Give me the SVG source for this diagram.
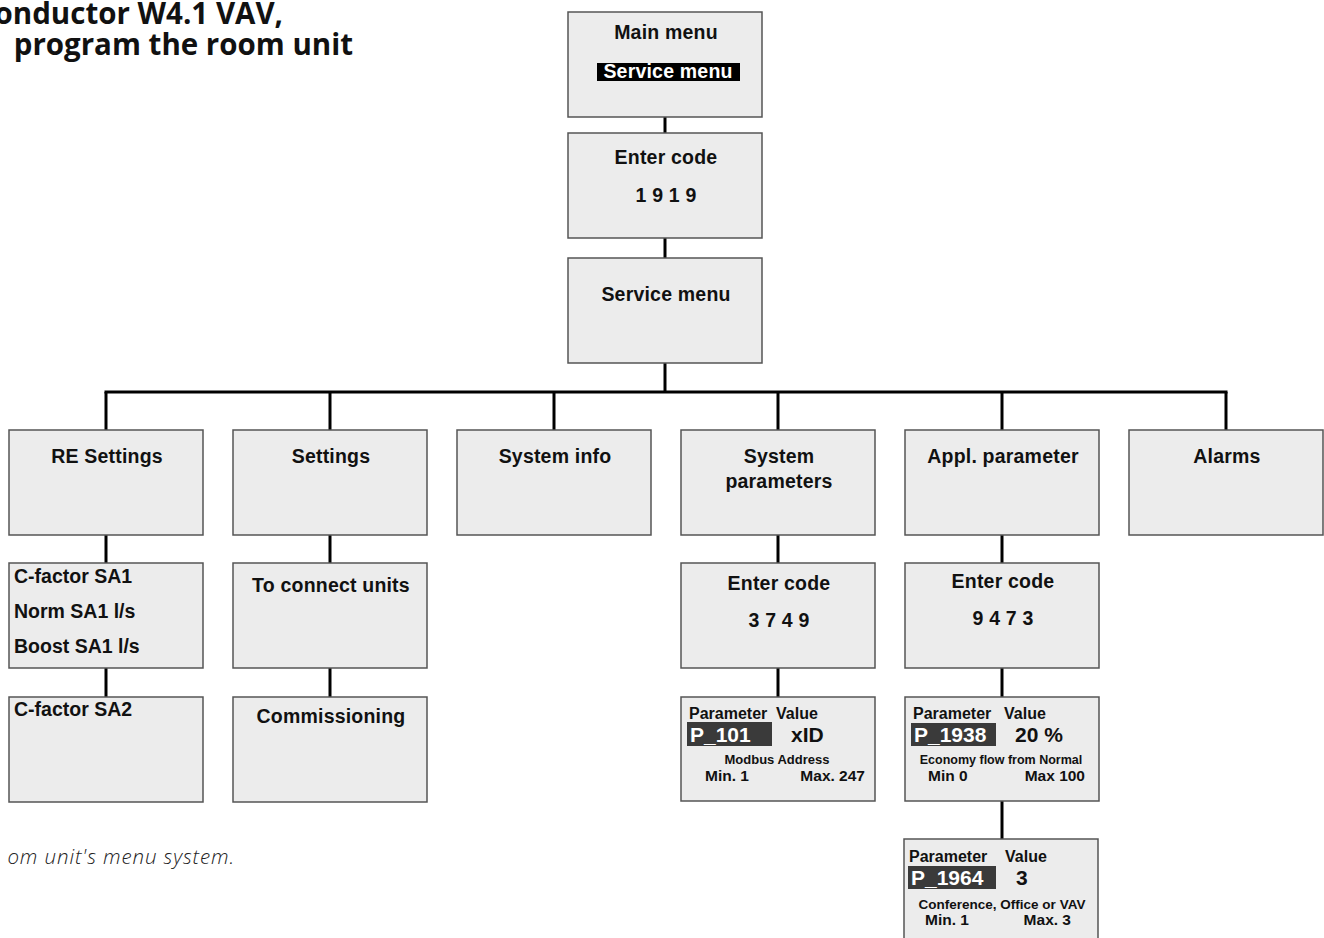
<svg xmlns="http://www.w3.org/2000/svg" width="1324" height="938" viewBox="0 0 1324 938">
<style>
.box{fill:#ececec;stroke:#555;stroke-width:1.5}
.t{font-family:"Liberation Sans",Arial,sans-serif;font-weight:bold;font-size:19.5px;letter-spacing:0.2px;fill:#111}
.c{text-anchor:middle}
.l{font-family:"Liberation Sans",Arial,sans-serif;font-weight:bold;font-size:19.5px;fill:#111}
.p{font-family:"Liberation Sans",Arial,sans-serif;font-weight:bold;fill:#111}
.inv{fill:#3a3a3a}
.w{fill:#fff}
.conn line{stroke:#000;stroke-width:3}
.title{font-family:"Open Sans","Noto Sans",sans-serif;font-weight:bold;font-size:29.5px;fill:#111;text-anchor:end}
.cap{font-family:"Open Sans","Noto Sans",sans-serif;font-style:italic;font-weight:300;font-size:20.5px;letter-spacing:0.9px;fill:#222;text-anchor:end}
</style>
<rect width="1324" height="938" fill="#fff"/>
<text class="title" x="283" y="24">onductor W4.1 VAV,</text>
<text class="title" x="353" y="55">program the room unit</text>
<text class="cap" x="235" y="864">om unit's menu system.</text>

<g class="conn">
<line x1="665" y1="117" x2="665" y2="133"/>
<line x1="665" y1="238" x2="665" y2="258"/>
<line x1="665" y1="363" x2="665" y2="392"/>
<line x1="104.5" y1="392" x2="1227.5" y2="392"/>
<line x1="106" y1="392" x2="106" y2="430"/>
<line x1="330" y1="392" x2="330" y2="430"/>
<line x1="554" y1="392" x2="554" y2="430"/>
<line x1="778" y1="392" x2="778" y2="430"/>
<line x1="1002" y1="392" x2="1002" y2="430"/>
<line x1="1226" y1="392" x2="1226" y2="430"/>
<line x1="106" y1="535" x2="106" y2="563"/>
<line x1="330" y1="535" x2="330" y2="563"/>
<line x1="778" y1="535" x2="778" y2="563"/>
<line x1="1002" y1="535" x2="1002" y2="563"/>
<line x1="106" y1="668" x2="106" y2="697"/>
<line x1="330" y1="668" x2="330" y2="697"/>
<line x1="778" y1="668" x2="778" y2="697"/>
<line x1="1002" y1="668" x2="1002" y2="697"/>
<line x1="1002" y1="801" x2="1002" y2="839"/>
</g>

<g id="main-menu">
<rect class="box" x="568" y="12" width="194" height="105"/>
<text class="t c" x="666" y="39">Main menu</text>
<rect x="597" y="63" width="143" height="18" fill="#000"/>
<text class="t c w" x="668" y="78">Service menu</text>
</g>
<g id="enter-code-1">
<rect class="box" x="568" y="133" width="194" height="105"/>
<text class="t c" x="666" y="164">Enter code</text>
<text class="t c" x="666" y="202">1 9 1 9</text>
</g>
<g id="service-menu">
<rect class="box" x="568" y="258" width="194" height="105"/>
<text class="t c" x="666" y="301">Service menu</text>
</g>

<g id="re-settings">
<rect class="box" x="9" y="430" width="194" height="105"/>
<text class="t c" x="107" y="463">RE Settings</text>
</g>
<g id="settings">
<rect class="box" x="233" y="430" width="194" height="105"/>
<text class="t c" x="331" y="463">Settings</text>
</g>
<g id="system-info">
<rect class="box" x="457" y="430" width="194" height="105"/>
<text class="t c" x="555" y="463">System info</text>
</g>
<g id="system-parameters">
<rect class="box" x="681" y="430" width="194" height="105"/>
<text class="t c" x="779" y="463">System</text>
<text class="t c" x="779" y="488">parameters</text>
</g>
<g id="appl-parameter">
<rect class="box" x="905" y="430" width="194" height="105"/>
<text class="t c" x="1003" y="463">Appl. parameter</text>
</g>
<g id="alarms">
<rect class="box" x="1129" y="430" width="194" height="105"/>
<text class="t c" x="1227" y="463">Alarms</text>
</g>

<g id="sa1">
<rect class="box" x="9" y="563" width="194" height="105"/>
<text class="l" x="14" y="583">C-factor SA1</text>
<text class="l" x="14" y="618">Norm SA1 l/s</text>
<text class="l" x="14" y="653">Boost SA1 l/s</text>
</g>
<g id="to-connect-units">
<rect class="box" x="233" y="563" width="194" height="105"/>
<text class="t c" x="331" y="592">To connect units</text>
</g>
<g id="enter-code-2">
<rect class="box" x="681" y="563" width="194" height="105"/>
<text class="t c" x="779" y="590">Enter code</text>
<text class="t c" x="779" y="627">3 7 4 9</text>
</g>
<g id="enter-code-3">
<rect class="box" x="905" y="563" width="194" height="105"/>
<text class="t c" x="1003" y="588">Enter code</text>
<text class="t c" x="1003" y="625">9 4 7 3</text>
</g>

<g id="sa2">
<rect class="box" x="9" y="697" width="194" height="105"/>
<text class="l" x="14" y="716">C-factor SA2</text>
</g>
<g id="commissioning">
<rect class="box" x="233" y="697" width="194" height="105"/>
<text class="t c" x="331" y="723">Commissioning</text>
</g>

<g id="p101">
<rect class="box" x="681" y="697" width="194" height="104"/>
<text class="p" x="689" y="719" font-size="16">Parameter</text>
<text class="p" x="776" y="719" font-size="16">Value</text>
<rect class="inv" x="687" y="722" width="85" height="24"/>
<text class="p w" x="690" y="742" font-size="21">P_101</text>
<text class="p" x="791" y="742" font-size="21">xID</text>
<text class="p c" x="777" y="764" font-size="13">Modbus Address</text>
<text class="p" x="705" y="781" font-size="15.5">Min. 1</text>
<text class="p" x="865" y="781" font-size="15.5" text-anchor="end">Max. 247</text>
</g>
<g id="p1938">
<rect class="box" x="905" y="697" width="194" height="104"/>
<text class="p" x="913" y="719" font-size="16">Parameter</text>
<text class="p" x="1004" y="719" font-size="16">Value</text>
<rect class="inv" x="911" y="723" width="85" height="23"/>
<text class="p w" x="914" y="742" font-size="21">P_1938</text>
<text class="p" x="1015" y="742" font-size="21">20 %</text>
<text class="p c" x="1001" y="764" font-size="12.5">Economy flow from Normal</text>
<text class="p" x="928" y="781" font-size="15.5">Min 0</text>
<text class="p" x="1085" y="781" font-size="15.5" text-anchor="end">Max 100</text>
</g>
<g id="p1964">
<rect class="box" x="904" y="839" width="194" height="105"/>
<text class="p" x="909" y="862" font-size="16">Parameter</text>
<text class="p" x="1005" y="862" font-size="16">Value</text>
<rect class="inv" x="908" y="866" width="88" height="23"/>
<text class="p w" x="911" y="885" font-size="21">P_1964</text>
<text class="p" x="1016" y="885" font-size="21">3</text>
<text class="p c" x="1002" y="909" font-size="13.5">Conference, Office or VAV</text>
<text class="p" x="925" y="925" font-size="15.5">Min. 1</text>
<text class="p" x="1071" y="925" font-size="15.5" text-anchor="end">Max. 3</text>
</g>
</svg>
